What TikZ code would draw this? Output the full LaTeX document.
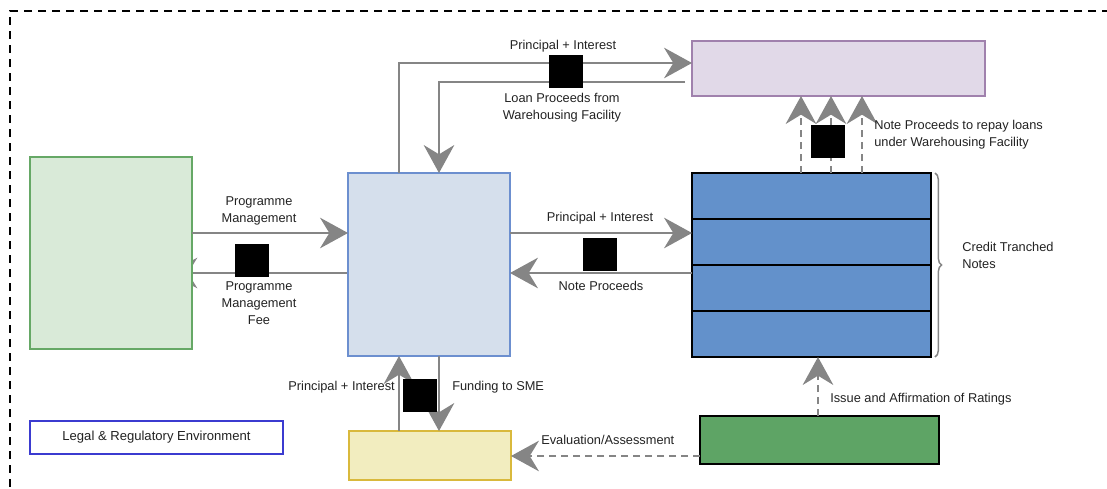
\documentclass[tikz,border=0pt]{standalone}
\usepackage{fontspec}
\setmainfont{Liberation Sans}
\usetikzlibrary{arrows.meta,decorations.pathreplacing}
\pgfdeclarelayer{background}
\pgfsetlayers{background,main}
\definecolor{gfill}{HTML}{D9EAD8}
\definecolor{gdraw}{HTML}{66A866}
\definecolor{bfill}{HTML}{D5DFEC}
\definecolor{bdraw}{HTML}{6C8FCF}
\definecolor{pfill}{HTML}{E1D9E8}
\definecolor{pdraw}{HTML}{A081AD}
\definecolor{tfill}{HTML}{6391CB}
\definecolor{yfill}{HTML}{F2EDBF}
\definecolor{ydraw}{HTML}{D9B93C}
\definecolor{dgfill}{HTML}{5EA465}
\definecolor{ldraw}{HTML}{3B3BD0}
\definecolor{arrgrey}{HTML}{858585}
\definecolor{txt}{HTML}{222222}
\begin{document}
\begin{tikzpicture}[x=0.75pt,y=-0.75pt,
  box/.style={draw, line width=2pt, inner sep=0pt, outer sep=0pt},
  row/.style={box, draw=black, fill=tfill, minimum width=179.25pt, minimum height=34.5pt},
  arr/.style={draw=arrgrey, line width=1pt, -{Stealth[length=21pt,width=23pt,inset=7pt]}, arrgrey},
  darr/.style={arr, dash pattern=on 5pt off 4pt},
  lbl/.style={text=txt, font=\fontsize{9.6}{12.75}\selectfont, inner sep=0pt, align=center},
  redact/.style={fill=black, inner sep=0pt, minimum width=25.5pt, minimum height=24.75pt}
]
\useasboundingbox (0,0) rectangle (1107,489);
% dashed environment border
\coordinate (bTL) at (10,11);
\coordinate (bTR) at (1110,11);
\coordinate (bBL) at (10,492);
\draw[line width=1.4pt, dash pattern=on 6pt off 4.5pt] (bTR) -- (bTL) -- (bBL);

% boxes
\node[box, draw=gdraw, fill=gfill, minimum width=121.5pt, minimum height=144pt] (green) at (111,253) {};
\node[box, draw=bdraw, fill=bfill, minimum width=121.5pt, minimum height=137.25pt] (blue) at (429,264.5) {};
\node[box, draw=pdraw, fill=pfill, minimum width=219.75pt, minimum height=41.25pt] (purple) at (838.5,68.5) {};
\node[row] (t1) at (811.5,196) {};
\node[row] (t2) at (811.5,242) {};
\node[row] (t3) at (811.5,288) {};
\node[row] (t4) at (811.5,334) {};
\node[box, draw=ydraw, fill=yfill, minimum width=121.5pt, minimum height=36.75pt] (yellow) at (430,455.5) {};
\node[box, draw=black, fill=dgfill, minimum width=179.25pt, minimum height=36pt] (dg) at (819.5,440) {};
\node[draw=ldraw, line width=1.3pt, fill=white, minimum width=189.75pt, minimum height=24.75pt, inner sep=0pt, text=txt, font=\fontsize{9.8}{12}\selectfont] (legal) at (156.5,437.5) {Legal \& Regulatory Environment};

% brace
\draw[arrgrey, line width=1.1pt, decorate, decoration={brace, amplitude=5pt}]
  ([xshift=3pt]t1.north east) -- ([xshift=3pt]t4.south east);
\node[lbl, align=left, anchor=west] (ctn) at (962,255) {Credit Tranched\\Notes};

% helper coordinates
\coordinate (c1) at (399,63);
\coordinate (c2) at (685,82);
\coordinate (c2b) at (439,0);
\coordinate (c3) at (0,233);
\coordinate (c4) at (0,273);
\coordinate (d1) at (801,0);
\coordinate (d2) at (831,0);
\coordinate (d3) at (862,0);
\coordinate (x818) at (818,0);
\coordinate (y456) at (0,456);
\coordinate (x399) at (399,0);
\coordinate (x439) at (439,0);

% connectors
\draw[arr] (blue.north -| c1) |- (purple.west |- c1);
\draw[arr] (c2) -| (blue.north -| c2b);
\draw[arr] (green.east |- c3) -- (blue.west |- c3);
\begin{pgfonlayer}{background}
\draw[arr] (blue.west |- c4) -- ([xshift=-17pt]green.east |- c4);
\end{pgfonlayer}
\draw[arr] (blue.east |- c3) -- (t2.west |- c3);
\draw[arr] (t3.west |- c4) -- (blue.east |- c4);
\draw[darr] (t1.north -| d1) -- (purple.south -| d1);
\draw[darr] (t1.north -| d2) -- (purple.south -| d2);
\draw[darr] (t1.north -| d3) -- (purple.south -| d3);
\draw[darr] (dg.north -| x818) -- (t4.south -| x818);
\draw[darr] (dg.west |- y456) -- (yellow.east |- y456);
\draw[arr] (yellow.north -| x399) -- (blue.south -| x399);
\draw[arr] (blue.south -| x439) -- (yellow.north -| x439);

% labels
\node[lbl] (l1) at (563,46) {Principal + Interest};
\node[lbl] (l2) at (562,107.5) {Loan Proceeds from\\Warehousing Facility};
\node[lbl] (l3) at (259,210.5) {Programme\\Management};
\node[lbl] (l4) at (259,303) {Programme\\Management\\Fee};
\node[lbl] (l5) at (600,218) {Principal + Interest};
\node[lbl] (l6) at (601,286) {Note Proceeds};
\node[lbl, align=left, anchor=west] (l7) at (874,134.5) {Note Proceeds to repay loans\\under Warehousing Facility};
\node[lbl, anchor=west] (l8) at (830,399) {Issue and Affirmation of Ratings};
\node[lbl, anchor=west] (l9) at (541,440) {Evaluation/Assessment};
\node[lbl, anchor=east] (l10) at (395,387) {Principal + Interest};
\node[lbl, anchor=west] (l11) at (452,387) {Funding to SME};

% redaction squares
\node[redact] (r1) at (566,71.5) {};
\node[redact] (r2) at (828,141.5) {};
\node[redact] (r3) at (252,260.5) {};
\node[redact] (r4) at (599.5,254.5) {};
\node[redact] (r5) at (419.5,395.5) {};
\end{tikzpicture}
\end{document}
